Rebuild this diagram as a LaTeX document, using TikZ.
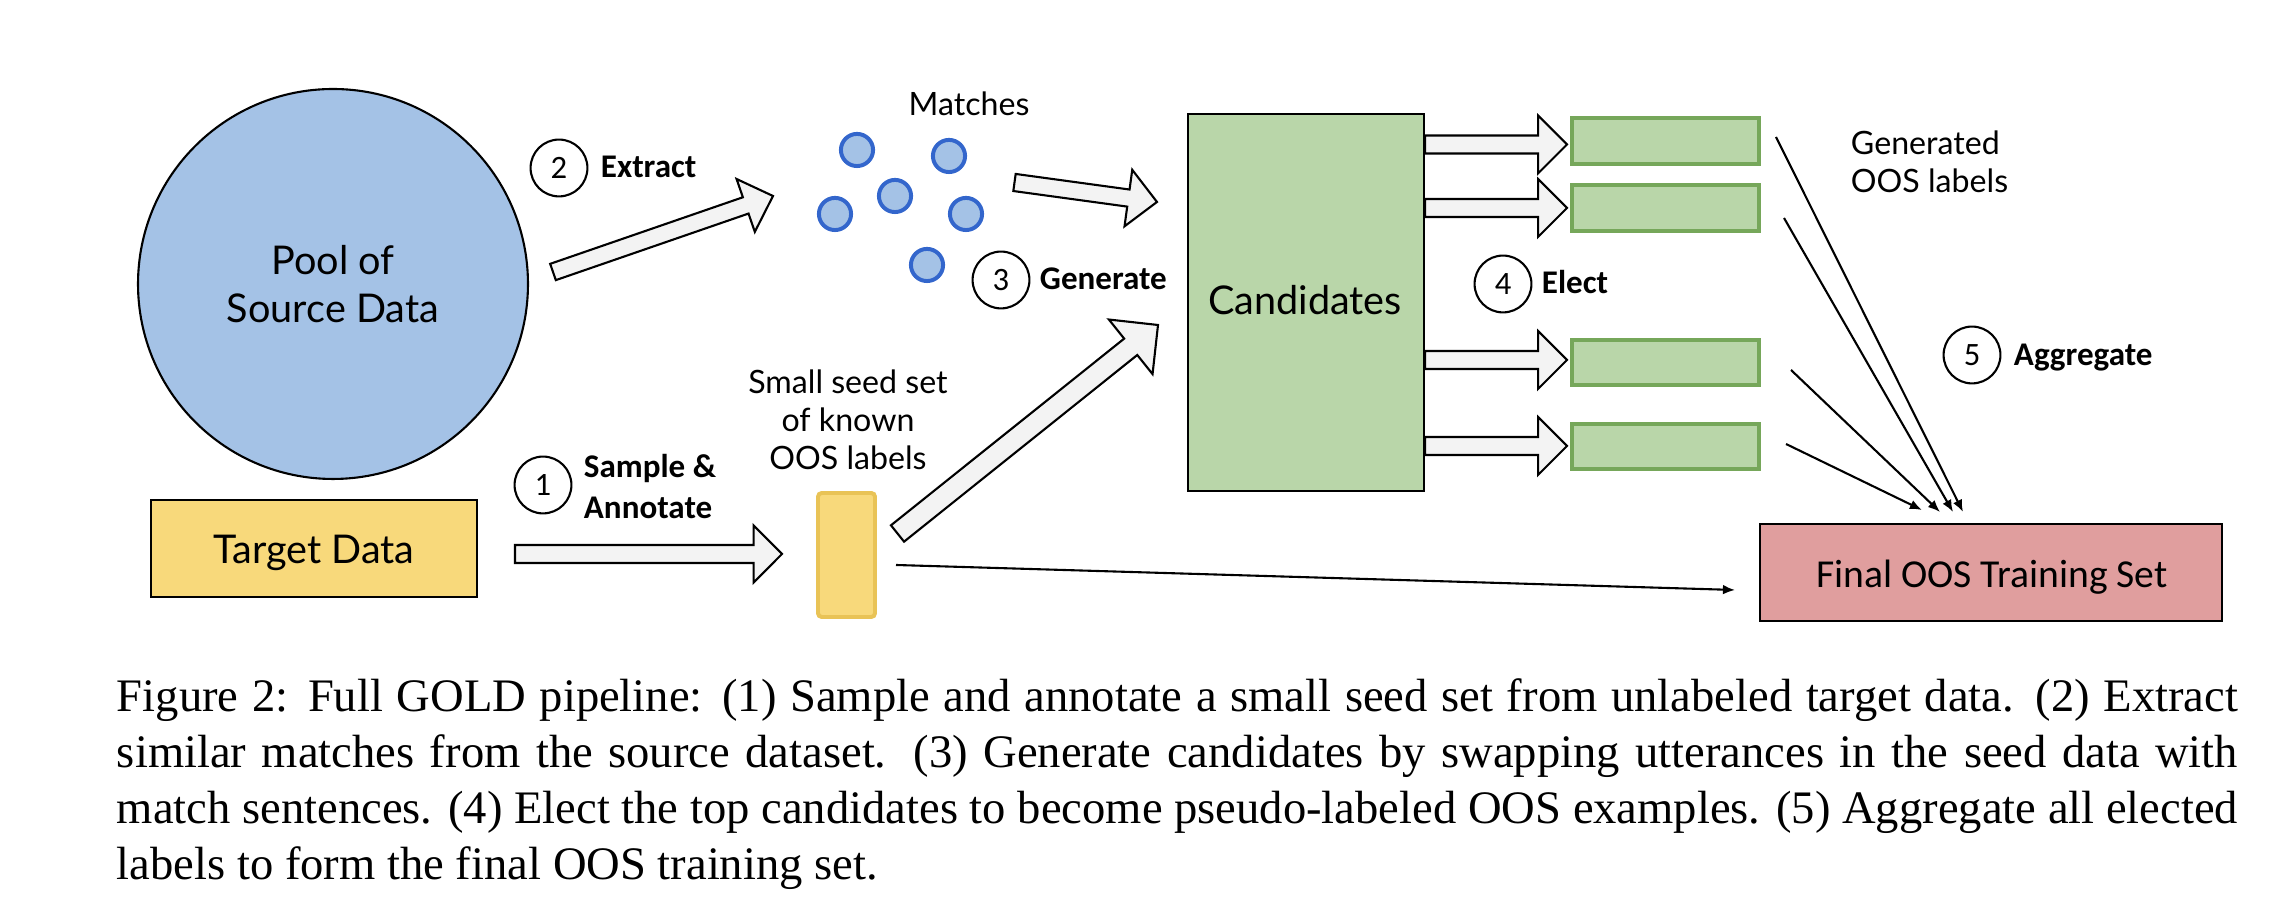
\documentclass[tikz,border=0pt]{standalone}
\usepackage{fontspec}
\setmainfont{Liberation Serif}
\newfontfamily\lato{Lato}
\newfontfamily\carl{Carlito}
\usetikzlibrary{calc,arrows.meta,fit}

\definecolor{poolblue}{HTML}{A4C2E6}
\definecolor{matchborder}{HTML}{3366CC}
\definecolor{candgreen}{HTML}{B9D6A9}
\definecolor{greenborder}{HTML}{76A75A}
\definecolor{targetyellow}{HTML}{F8D97B}
\definecolor{seedborder}{HTML}{E9C356}
\definecolor{finalred}{HTML}{E09E9E}
\definecolor{arrowgray}{HTML}{F3F3F3}

\tikzset{
  barrow/.style={draw=black, fill=arrowgray, line width=0.45pt, line join=miter},
  numcirc/.style={circle, draw=black, line width=0.45pt, minimum size=12.2pt, inner sep=0pt, font=\carl\fontsize{7}{8}\selectfont},
  steplabel/.style={anchor=base west, inner sep=0pt, font=\carl\bfseries\fontsize{7.1}{8.8}\selectfont, align=left},
  bigtext/.style={font=\lato\fontsize{8.5}{10.3}\selectfont},
  smalltext/.style={font=\lato\fontsize{6.9}{8.2}\selectfont},
  thinarrow/.style={line width=0.45pt, -{Latex[length=2.6pt,width=2.1pt]}},
  matchdot/.style={circle, fill=poolblue, draw=matchborder, line width=0.85pt, minimum size=6.9pt, inner sep=0pt},
  greenbox/.style={fill=candgreen, draw=greenborder, line width=0.9pt, inner sep=0pt},
  plainbox/.style={draw=black, line width=0.5pt, inner sep=0pt},
}

% block arrow: tail, tip, shaft half width, head half width, head length
\newcommand\blockarrow[5]{%
  \coordinate (ba) at ($(#2)!#5!(#1)$);
  \draw[barrow] ($(#1)!#3!90:(#2)$) -- ($(ba)!#3!-90:(#1)$) -- ($(ba)!#4!-90:(#1)$)
    -- (#2) -- ($(ba)!#4!90:(#1)$) -- ($(ba)!#3!90:(#1)$) -- ($(#1)!#3!-90:(#2)$) -- cycle;
}

\begin{document}
\begin{tikzpicture}[x=0.214635pt, y=-0.214635pt]
\useasboundingbox (0,0) rectangle (2288,918);

% ---------- main nodes
\node[circle, fill=poolblue, draw=black, line width=0.45pt, minimum size=83.7pt, inner sep=0pt,
      bigtext, align=center] (pool) at (333,284) {Pool of\\Source Data};

\node[plainbox, fill=targetyellow, fit={(151,500) (477,597)}, bigtext] (target) {};
\node[bigtext, anchor=base] (targetlbl) at (314,564) {Target Data};

\node[fill=targetyellow, draw=seedborder, line width=0.85pt, rounded corners=0.8pt, inner sep=0pt,
      fit={(818,493) (875,617)}] (seed) {};
\node[smalltext, align=center] (seedlbl) at (848,420) {Small seed set\\of known\\OOS labels};

\node[smalltext, anchor=base] (matcheslbl) at (969,116) {Matches};
\node[matchdot] (m1) at (857,150) {};
\node[matchdot] (m2) at (949,156) {};
\node[matchdot] (m3) at (895,196) {};
\node[matchdot] (m4) at (835,214) {};
\node[matchdot] (m5) at (966,214) {};
\node[matchdot] (m6) at (927,265) {};

\node[plainbox, fill=candgreen, fit={(1188,114) (1424,491)}] (cand) {};
\node[bigtext, anchor=base] (candlbl) at (1305,315) {Candidates};

\node[greenbox, fit={(1572,118) (1759,164)}] (o1) {};
\node[greenbox, fit={(1572,185) (1759,231)}] (o2) {};
\node[greenbox, fit={(1572,340) (1759,385)}] (o3) {};
\node[greenbox, fit={(1572,424) (1759,469)}] (o4) {};

\node[plainbox, fill=finalred, fit={(1760,524) (2222,621)}] (final) {};
\node[font=\carl\fontsize{8.5}{10}\selectfont, anchor=base] (finallbl) at (1992,588) {Final OOS Training Set};

\node[smalltext, anchor=west, align=left, inner sep=0pt] (genlbl) at (1850,162) {Generated\\OOS labels};

% ---------- step labels
\node[numcirc] (n1) at (543,485) {1};
\node[steplabel] (l1) at (583,519) {Sample \&\\Annotate};
\node[numcirc] (n2) at (559,168) {2};
\node[steplabel] (l2) at (600,178) {Extract};
\node[numcirc] (n3) at (1001,280) {3};
\node[steplabel] (l3) at (1039,290) {Generate};
\node[numcirc] (n4) at (1503,284) {4};
\node[steplabel] (l4) at (1541,294) {Elect};
\node[numcirc] (n5) at (1972,355) {5};
\node[steplabel] (l5) at (2013,366) {Aggregate};

% ---------- block arrows
\coordinate (a1t) at (515,554);    \coordinate (a1h) at (782,554);
\coordinate (a2t) at (553,272);    \coordinate (a2h) at (773,196);
\coordinate (a3t) at (1014.5,182.5); \coordinate (a3h) at (1157,202);
\coordinate (a4t) at (897.5,533.5); \coordinate (a4h) at (1158,325);
\blockarrow{a1t}{a1h}{1.93pt}{6.12pt}{6.1pt}
\blockarrow{a2t}{a2h}{1.85pt}{6.0pt}{6.2pt}
\blockarrow{a3t}{a3h}{1.85pt}{6.12pt}{6.2pt}
\blockarrow{a4t}{a4h}{2.25pt}{7.5pt}{7.5pt}

\coordinate (e1t) at (cand.east |- 0,144.5); \coordinate (e1h) at (1567,144.5);
\coordinate (e2t) at (cand.east |- 0,208);   \coordinate (e2h) at (1567,208);
\coordinate (e3t) at (cand.east |- 0,360);   \coordinate (e3h) at (1567,360);
\coordinate (e4t) at (cand.east |- 0,446);   \coordinate (e4h) at (1567,446);
\blockarrow{e1t}{e1h}{1.93pt}{6.2pt}{6.2pt}
\blockarrow{e2t}{e2h}{1.93pt}{6.2pt}{6.2pt}
\blockarrow{e3t}{e3h}{1.93pt}{6.2pt}{6.2pt}
\blockarrow{e4t}{e4h}{1.93pt}{6.2pt}{6.2pt}

% ---------- thin arrows
\coordinate (s0) at (896,565); \coordinate (s1) at (1735,590);
\draw[thinarrow] (s0) -- (s1);
\coordinate (g1s) at (1776,137); \coordinate (g1e) at (1963,512);
\coordinate (g2s) at (1784,218); \coordinate (g2e) at (1953,512);
\coordinate (g3s) at (1791,370); \coordinate (g3e) at (1940,512);
\coordinate (g4s) at (1786,444); \coordinate (g4e) at (1922,510);
\draw[thinarrow] (g1s) -- (g1e);
\draw[thinarrow] (g2s) -- (g2e);
\draw[thinarrow] (g3s) -- (g3e);
\draw[thinarrow] (g4s) -- (g4e);

% ---------- caption
\node[anchor=base west, inner sep=0pt] (caption) at (116,712) {\parbox[t]{455.24pt}{\fontsize{10}{12}\selectfont
Figure 2: Full GOLD pipeline: (1) Sample and annotate a small seed set from unlabeled target data. (2) Extract\linebreak
similar matches from the source dataset. (3) Generate candidates by swapping utterances in the seed data with\linebreak
match sentences. (4) Elect the top candidates to become pseudo-labeled OOS examples. (5) Aggregate all elected\linebreak
labels to form the final OOS training set.}};
\end{tikzpicture}
\end{document}
